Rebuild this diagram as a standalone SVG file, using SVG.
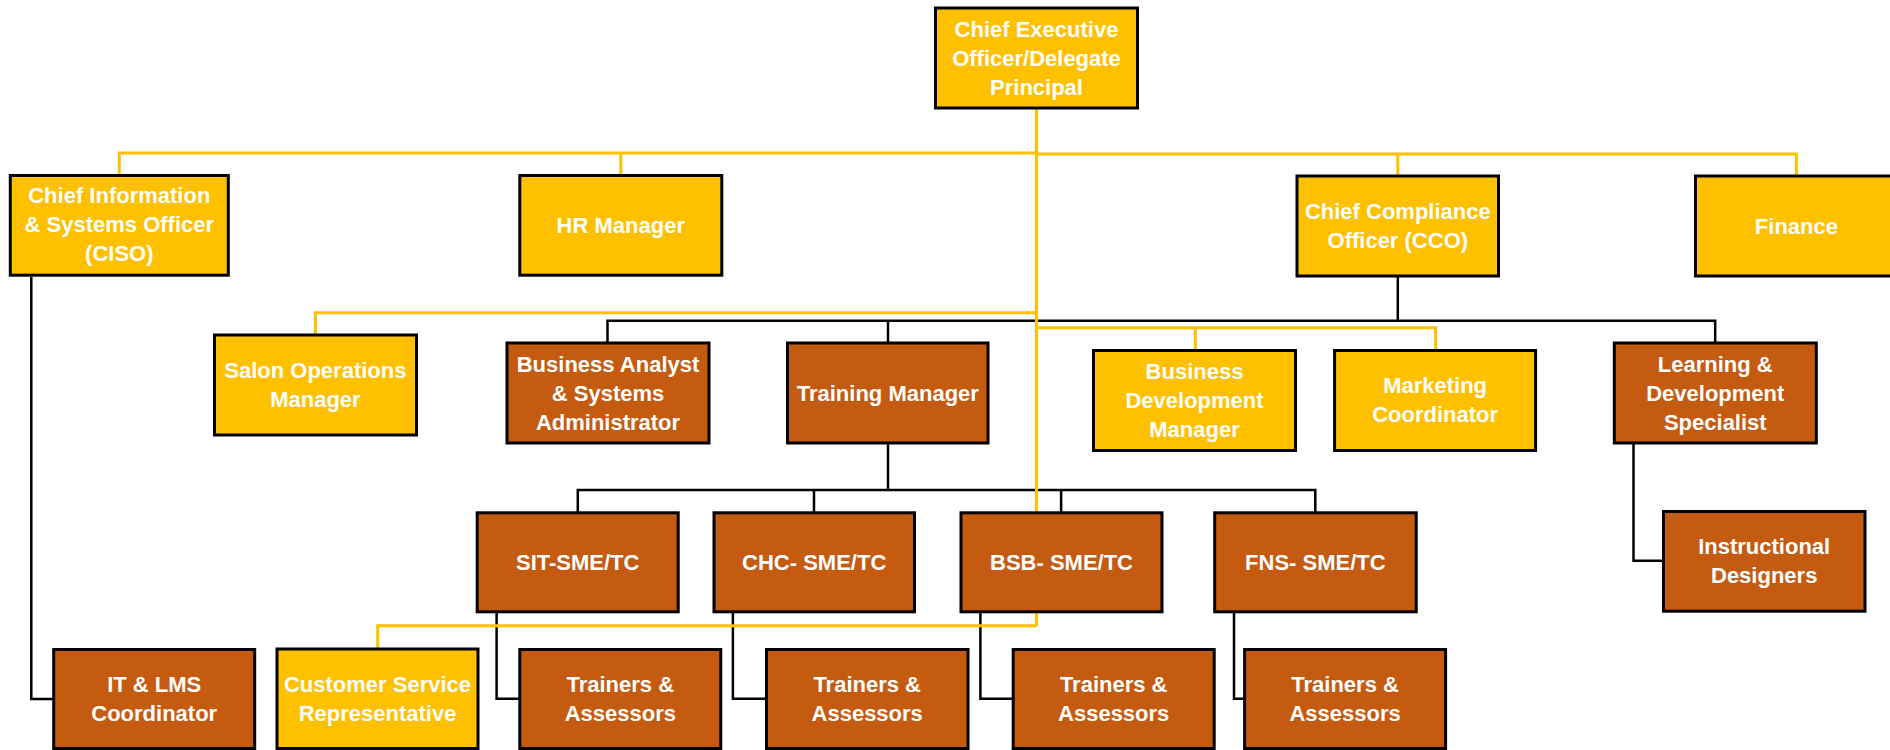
<svg xmlns="http://www.w3.org/2000/svg" width="1890" height="750" viewBox="0 0 1890 750">
<style>
.y{fill:#FFC000;stroke:#000;stroke-width:3}
.b{fill:#C55A11;stroke:#000;stroke-width:3}
.t{fill:#fff;font-family:"Liberation Sans",Arial,sans-serif;font-weight:bold;font-size:22px;text-anchor:middle}
.cy{fill:none;stroke:#FFC000;stroke-width:3}
.ck{fill:none;stroke:#000;stroke-width:2.5}
</style>
<rect width="1890" height="750" fill="#fff"/>
<g id="connectors">
<path class="ck" d="M31.3,277 V699 H53"/>
<path class="ck" d="M1397.8,277 V320.7"/>
<path class="ck" d="M607.5,343 V320.7 H1715.2 V343"/>
<path class="ck" d="M888,320.7 V343"/>
<path class="ck" d="M888,444 V490"/>
<path class="ck" d="M577.8,512 V490 H1315.3 V512"/>
<path class="ck" d="M814,490 V512"/>
<path class="ck" d="M1061.1,490 V512"/>
<path class="ck" d="M496.6,613 V698.7 H519"/>
<path class="ck" d="M732.9,613 V698.7 H766"/>
<path class="ck" d="M980.4,613 V698.7 H1012"/>
<path class="ck" d="M1234,613 V698.7 H1244"/>
<path class="ck" d="M1633.5,444 V560.7 H1663"/>
<path class="cy" d="M1036.5,109 V626"/>
<path class="cy" d="M119.3,175 V153 H1036.5"/>
<path class="cy" d="M620.8,153 V175"/>
<path class="cy" d="M1036.5,154 H1796.4 V176"/>
<path class="cy" d="M1397.8,154 V176"/>
<path class="cy" d="M315.4,334 V312.7 H1036.5"/>
<path class="cy" d="M1036.5,327.7 H1435.6 V350"/>
<path class="cy" d="M1195.3,327.7 V350"/>
<path class="cy" d="M377.7,648 V625.7 H1036.6"/>
</g>
<g id="ceo"><rect class="y" x="935.5" y="8" width="202" height="100"/><text class="t" x="1036.5"><tspan x="1036.5" y="36.5">Chief Executive</tspan><tspan x="1036.5" y="65.5">Officer/Delegate</tspan><tspan x="1036.5" y="94.5">Principal</tspan></text></g>
<g id="ciso"><rect class="y" x="10.3" y="175.5" width="218" height="99.7"/><text class="t"><tspan x="119.3" y="203.3">Chief Information</tspan><tspan x="119.3" y="232.3">&amp; Systems Officer</tspan><tspan x="119.3" y="261.3">(CISO)</tspan></text></g>
<g id="hr"><rect class="y" x="519.8" y="175.5" width="202" height="99.7"/><text class="t" x="620.8" y="232.8">HR Manager</text></g>
<g id="cco"><rect class="y" x="1297" y="176" width="201.5" height="100"/><text class="t"><tspan x="1397.8" y="219">Chief Compliance</tspan><tspan x="1397.8" y="248">Officer (CCO)</tspan></text></g>
<g id="finance"><rect class="y" x="1695.5" y="176" width="202" height="100"/><text class="t" x="1796.4" y="233.5">Finance</text></g>
<g id="salon"><rect class="y" x="214.5" y="335" width="202" height="100"/><text class="t"><tspan x="315.4" y="378">Salon Operations</tspan><tspan x="315.4" y="407">Manager</tspan></text></g>
<g id="ba"><rect class="b" x="507" y="343" width="202" height="100"/><text class="t"><tspan x="608" y="371.5">Business Analyst</tspan><tspan x="608" y="400.5">&amp; Systems</tspan><tspan x="608" y="429.5">Administrator</tspan></text></g>
<g id="tm"><rect class="b" x="787.5" y="343" width="200.5" height="100"/><text class="t" x="887.8" y="400.5">Training Manager</text></g>
<g id="bdm"><rect class="y" x="1093.5" y="350.5" width="202" height="100"/><text class="t"><tspan x="1194.5" y="378.8">Business</tspan><tspan x="1194.5" y="407.8">Development</tspan><tspan x="1194.5" y="436.8">Manager</tspan></text></g>
<g id="marketing"><rect class="y" x="1334.6" y="350.5" width="201" height="100"/><text class="t"><tspan x="1435.1" y="393.3">Marketing</tspan><tspan x="1435.1" y="422.3">Coordinator</tspan></text></g>
<g id="lds"><rect class="b" x="1614.3" y="343" width="202" height="100"/><text class="t"><tspan x="1715.3" y="371.5">Learning &amp;</tspan><tspan x="1715.3" y="400.5">Development</tspan><tspan x="1715.3" y="429.5">Specialist</tspan></text></g>
<g id="sit"><rect class="b" x="477.2" y="512.8" width="201" height="99"/><text class="t" x="577.7" y="569.8">SIT-SME/TC</text></g>
<g id="chc"><rect class="b" x="714" y="512.8" width="200.5" height="99"/><text class="t" x="814.2" y="569.8">CHC- SME/TC</text></g>
<g id="bsb"><rect class="b" x="961" y="512.8" width="201" height="99"/><text class="t" x="1061.5" y="569.8">BSB- SME/TC</text></g>
<g id="fns"><rect class="b" x="1214.7" y="512.8" width="201.5" height="99"/><text class="t" x="1315.4" y="569.8">FNS- SME/TC</text></g>
<g id="id"><rect class="b" x="1663.5" y="511.5" width="201.5" height="99.7"/><text class="t"><tspan x="1764.2" y="554.3">Instructional</tspan><tspan x="1764.2" y="583.3">Designers</tspan></text></g>
<g id="itlms"><rect class="b" x="53.7" y="649.5" width="201" height="99"/><text class="t"><tspan x="154.2" y="691.5">IT &amp; LMS</tspan><tspan x="154.2" y="720.5">Coordinator</tspan></text></g>
<g id="csr"><rect class="y" x="277" y="649" width="201" height="99.5"/><text class="t"><tspan x="377.5" y="691.5">Customer Service</tspan><tspan x="377.5" y="720.5">Representative</tspan></text></g>
<g id="ta1"><rect class="b" x="519.8" y="649.5" width="201" height="99"/><text class="t"><tspan x="620.3" y="691.5">Trainers &amp;</tspan><tspan x="620.3" y="720.5">Assessors</tspan></text></g>
<g id="ta2"><rect class="b" x="766.5" y="649.5" width="201.5" height="99"/><text class="t"><tspan x="867.2" y="691.5">Trainers &amp;</tspan><tspan x="867.2" y="720.5">Assessors</tspan></text></g>
<g id="ta3"><rect class="b" x="1013.2" y="649.5" width="201" height="99"/><text class="t"><tspan x="1113.7" y="691.5">Trainers &amp;</tspan><tspan x="1113.7" y="720.5">Assessors</tspan></text></g>
<g id="ta4"><rect class="b" x="1244.6" y="649.5" width="201" height="99"/><text class="t"><tspan x="1345.1" y="691.5">Trainers &amp;</tspan><tspan x="1345.1" y="720.5">Assessors</tspan></text></g>
</svg>
